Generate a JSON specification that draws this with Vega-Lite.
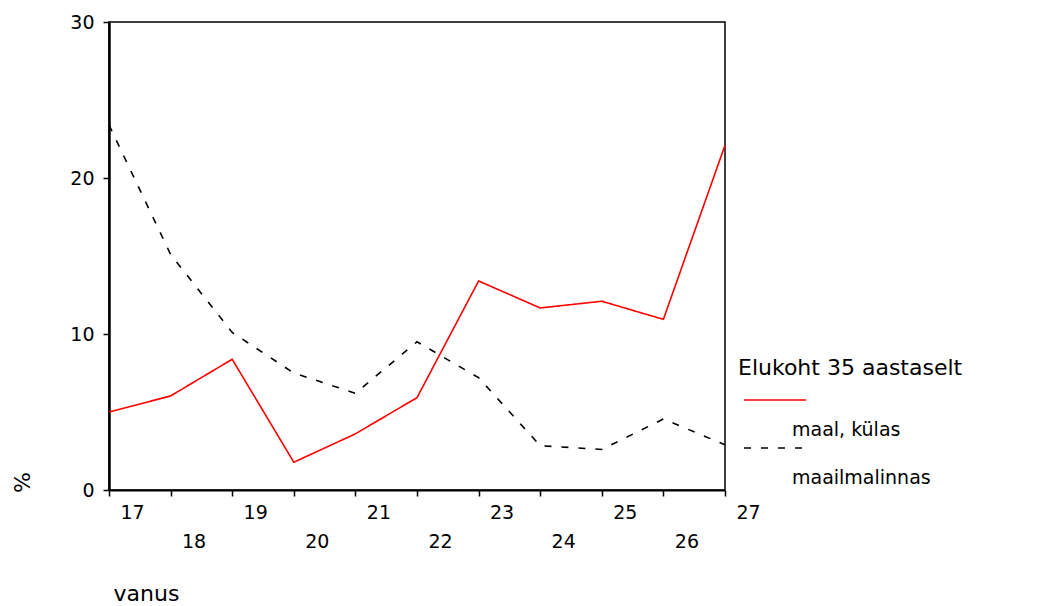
{
  "$schema": "https://vega.github.io/schema/vega-lite/v6.json",
  "width": 616,
  "height": 468,
  "autosize": {"type": "none"},
  "padding": {"left": 109, "top": 22, "right": 316, "bottom": 116},
  "background": "white",
  "config": {
    "view": {"stroke": "black", "strokeWidth": 1.5},
    "font": "DejaVu Sans"
  },
  "data": {
    "values": [
      {"vanus": 17, "pct": 5.0, "koht": "maal, külas"},
      {"vanus": 18, "pct": 6.03, "koht": "maal, külas"},
      {"vanus": 19, "pct": 8.38, "koht": "maal, külas"},
      {"vanus": 20, "pct": 1.78, "koht": "maal, külas"},
      {"vanus": 21, "pct": 3.6, "koht": "maal, külas"},
      {"vanus": 22, "pct": 5.92, "koht": "maal, külas"},
      {"vanus": 23, "pct": 13.4, "koht": "maal, külas"},
      {"vanus": 24, "pct": 11.67, "koht": "maal, külas"},
      {"vanus": 25, "pct": 12.1, "koht": "maal, külas"},
      {"vanus": 26, "pct": 10.94, "koht": "maal, külas"},
      {"vanus": 27, "pct": 22.1, "koht": "maal, külas"},
      {"vanus": 17, "pct": 23.4, "koht": "maailmalinnas"},
      {"vanus": 18, "pct": 15.1, "koht": "maailmalinnas"},
      {"vanus": 19, "pct": 10.1, "koht": "maailmalinnas"},
      {"vanus": 20, "pct": 7.5, "koht": "maailmalinnas"},
      {"vanus": 21, "pct": 6.2, "koht": "maailmalinnas"},
      {"vanus": 22, "pct": 9.5, "koht": "maailmalinnas"},
      {"vanus": 23, "pct": 7.2, "koht": "maailmalinnas"},
      {"vanus": 24, "pct": 2.84, "koht": "maailmalinnas"},
      {"vanus": 25, "pct": 2.6, "koht": "maailmalinnas"},
      {"vanus": 26, "pct": 4.55, "koht": "maailmalinnas"},
      {"vanus": 27, "pct": 2.9, "koht": "maailmalinnas"}
    ]
  },
  "mark": {"type": "line", "strokeWidth": 1.6},
  "encoding": {
    "x": {
      "field": "vanus",
      "type": "quantitative",
      "scale": {"domain": [17, 27], "nice": false, "zero": false},
      "axis": {
        "title": "vanus",
        "values": [17, 18, 19, 20, 21, 22, 23, 24, 25, 26, 27],
        "grid": false,
        "domainColor": "black",
        "domainWidth": 2,
        "tickColor": "black",
        "tickSize": 6,
        "tickWidth": 1.5,
        "labelFont": "DejaVu Sans",
        "labelFontSize": 19,
        "labelColor": "black",
        "labelOffset": 23,
        "labelPadding": 7,
        "labelBaseline": "top",
        "labelLineHeight": 29,
        "labelOverlap": false,
        "labelBound": false,
        "labelFlush": false,
        "labelExpr": "datum.value % 2 == 0 ? ['', datum.label] : datum.label",
        "titleFont": "DejaVu Sans",
        "titleFontSize": 22,
        "titleFontWeight": "normal",
        "titleColor": "black",
        "titleAlign": "center",
        "titleBaseline": "alphabetic",
        "titleX": 37,
        "titleY": 110
      }
    },
    "y": {
      "field": "pct",
      "type": "quantitative",
      "scale": {"domain": [0, 30], "nice": false},
      "axis": {
        "title": "%",
        "values": [0, 10, 20, 30],
        "grid": false,
        "domainColor": "black",
        "domainWidth": 2.5,
        "tickColor": "black",
        "tickSize": 6,
        "tickWidth": 1.5,
        "labelFont": "DejaVu Sans",
        "labelFontSize": 19,
        "labelColor": "black",
        "labelPadding": 9,
        "titleFont": "DejaVu Sans",
        "titleFontSize": 22,
        "titleFontWeight": "normal",
        "titleColor": "black",
        "titleAngle": -90,
        "titleAlign": "center",
        "titleBaseline": "middle",
        "titleX": -87,
        "titleY": 460
      }
    },
    "color": {
      "field": "koht",
      "type": "nominal",
      "scale": {"domain": ["maal, külas", "maailmalinnas"], "range": ["#ff0000", "#000000"]},
      "legend": {
        "title": "Elukoht 35 aastaselt",
        "orient": "none",
        "legendX": 629,
        "legendY": 336,
        "titleFont": "DejaVu Sans",
        "titleFontSize": 22,
        "titleFontWeight": "normal",
        "titleColor": "black",
        "titleLimit": 400,
        "titlePadding": 18,
        "clipHeight": 4,
        "symbolType": "stroke",
        "symbolSize": 3844,
        "symbolStrokeWidth": 1.5,
        "symbolOffset": 5,
        "labelFont": "DejaVu Sans",
        "labelFontSize": 19,
        "labelColor": "black",
        "labelOffset": -15,
        "labelBaseline": "top",
        "labelLineHeight": 27,
        "labelExpr": "['', datum.label]",
        "labelLimit": 400,
        "rowPadding": 6
      }
    },
    "strokeDash": {
      "field": "koht",
      "type": "nominal",
      "scale": {"domain": ["maal, külas", "maailmalinnas"], "range": [[1, 0], [7, 10]]},
      "legend": {
        "title": "Elukoht 35 aastaselt"
      }
    }
  }
}
